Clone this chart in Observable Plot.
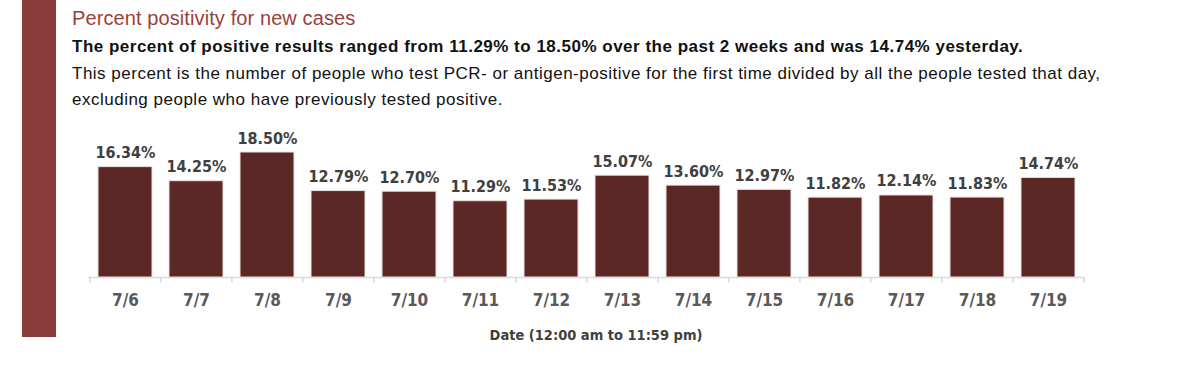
<!DOCTYPE html>
<html>
<head>
<meta charset="utf-8">
<script src="https://cdn.jsdelivr.net/npm/d3@7"></script>
<script src="https://cdn.jsdelivr.net/npm/@observablehq/plot@0.6"></script>
<style>
  html, body { margin: 0; padding: 0; background: #fff; }
  body { width: 1200px; height: 372px; position: relative; overflow: hidden; font-family: "Liberation Sans", Arial, sans-serif; }
  #sidebar { position: absolute; left: 22px; top: 0; width: 34px; height: 337px; background: #8c3b3b; }
  #title { position: absolute; left: 72px; top: 7px; font-size: 20px; letter-spacing: 0.1px; color: #9a3f3a; white-space: nowrap; }
  #subtitle { position: absolute; left: 72px; top: 37px; font-size: 17px; letter-spacing: 0.5px; font-weight: bold; color: #111; white-space: nowrap; }
  #desc { position: absolute; left: 72px; top: 61px; font-size: 17px; letter-spacing: 0.5px; line-height: 26px; color: #111; white-space: nowrap; }
  #chart { position: absolute; left: 0; top: 120px; }
</style>
</head>
<body>
<div id="sidebar"></div>
<div id="title">Percent positivity for new cases</div>
<div id="subtitle">The percent of positive results ranged from 11.29% to 18.50% over the past 2 weeks and was 14.74% yesterday.</div>
<div id="desc">This percent is the number of people who test PCR- or antigen-positive for the first time divided by all the people tested that day,<br>excluding people who have previously tested positive.</div>
<div id="chart"></div>
<script>
const dates = ["7/6","7/7","7/8","7/9","7/10","7/11","7/12","7/13","7/14","7/15","7/16","7/17","7/18","7/19"];
const values = [16.34,14.25,18.50,12.79,12.70,11.29,11.53,15.07,13.60,12.97,11.82,12.14,11.83,14.74];
const xTitle = "Date (12:00 am to 11:59 pm)";

const data = dates.map((d, i) => ({date: d, value: values[i]}));

const W = 1200, H = 230, mL = 88, mR = 115, mT = 32, mB = 73;
const step = (W - mL - mR) / dates.length;
const font = '"DejaVu Sans Condensed", "Liberation Sans Narrow", sans-serif';

const plot = Plot.plot({
  width: W,
  height: H,
  marginLeft: mL,
  marginRight: mR,
  marginTop: mT,
  marginBottom: mB,
  style: {fontFamily: font, background: "transparent", overflow: "visible"},
  x: {type: "band", domain: dates, paddingInner: 0.24, paddingOuter: 0.12},
  y: {domain: [0, d3.max(values)], axis: null},
  marks: [
    Plot.ruleY([0], {stroke: "#d9d9d9", strokeWidth: 1.5}),
    Plot.ruleX(dates, {x: d => d, dx: -step / 2, y1: 0, y2: -0.8, stroke: "#d9d9d9", strokeWidth: 1.5}),
    Plot.ruleX(dates.slice(-1), {x: d => d, dx: step / 2, y1: 0, y2: -0.8, stroke: "#d9d9d9", strokeWidth: 1.5}),
    Plot.barY(data, {x: "date", y: "value", fill: "#5b2825", stroke: "#ece2e2", strokeWidth: 1}),
    Plot.text(data, {x: "date", y: "value", text: d => d.value.toFixed(2) + "%", lineAnchor: "bottom", dy: -9, fontSize: 16, fontWeight: "bold", fill: "#404040"}),
    Plot.axisX({tickSize: 0, tickPadding: 16, fontSize: 17, fontWeight: "bold", color: "#595959", label: xTitle, labelAnchor: "center", labelOffset: 62})
  ]
});
plot.querySelectorAll('g[aria-label="x-axis label"] text').forEach(t => {
  t.setAttribute("font-size", "14.5");
  t.setAttribute("font-weight", "bold");
  t.setAttribute("fill", "#404040");
  t.setAttribute("dx", "9");
  t.style.fontSize = "14.5px";
});
document.getElementById("chart").appendChild(plot);
</script>
</body>
</html>
